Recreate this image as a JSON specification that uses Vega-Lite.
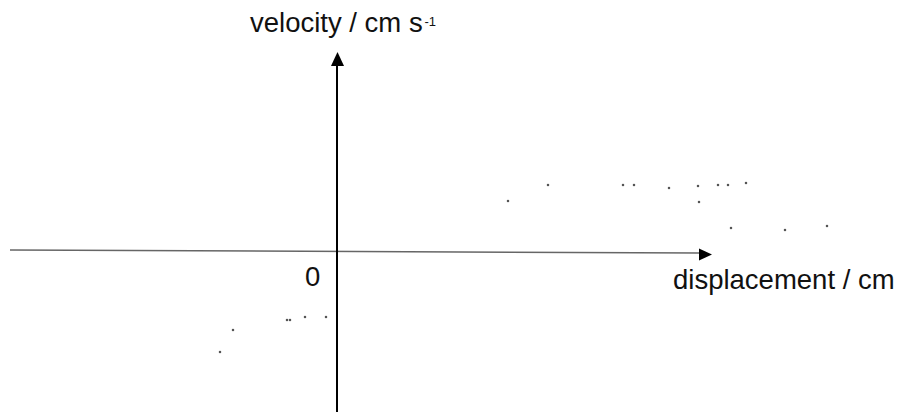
{
  "$schema": "https://vega.github.io/schema/vega-lite/v6.json",
  "autosize": {"type": "fit", "contains": "padding"},
  "width": 909,
  "height": 415,
  "padding": 0,
  "background": "white",
  "config": {"view": {"stroke": null}},
  "datasets": {
    "hline": [{"x": -32.7, "y": 0.2, "x2": 36.3, "y2": -0.1}],
    "vline": [{"x": 0.0, "y": 18.6, "x2": 0.0, "y2": -16.0}],
    "upArrow": [{"x": 0.05, "y": 19.3}],
    "rightArrow": [{"x": 36.85, "y": -0.25}],
    "labels": [
      {"x": -8.7, "y": 22.0, "text": "velocity / cm s"},
      {"x": 33.6, "y": -3.7, "text": "displacement / cm"},
      {"x": -3.2, "y": -3.4, "text": "0"}
    ],
    "sup": [{"x": 8.75, "y": 22.6, "text": "-1"}],
    "specks": [
      {"x": 21.1, "y": 6.7}, {"x": 28.6, "y": 6.7}, {"x": 29.7, "y": 6.7},
      {"x": 33.2, "y": 6.4}, {"x": 36.1, "y": 6.6}, {"x": 38.1, "y": 6.7},
      {"x": 39.1, "y": 6.7}, {"x": 40.9, "y": 6.9}, {"x": 17.1, "y": 5.1},
      {"x": 36.2, "y": 5.0}, {"x": 39.4, "y": 2.4}, {"x": 44.8, "y": 2.2},
      {"x": 49.0, "y": 2.6}, {"x": -5.0, "y": -6.8}, {"x": -4.7, "y": -6.8},
      {"x": -3.2, "y": -6.5}, {"x": -1.1, "y": -6.5}, {"x": -10.4, "y": -7.8},
      {"x": -11.7, "y": -10.0}
    ]
  },
  "layer": [
    {
      "data": {"name": "hline"},
      "mark": {"type": "rule", "color": "#666666", "strokeWidth": 1.5},
      "encoding": {
        "x": {"field": "x", "type": "quantitative", "scale": {"domain": [-33.7, 57.2], "nice": false, "zero": false}, "axis": null},
        "y": {"field": "y", "type": "quantitative", "scale": {"domain": [-16.3, 25.2], "nice": false, "zero": false}, "axis": null},
        "x2": {"field": "x2"},
        "y2": {"field": "y2"}
      }
    },
    {
      "data": {"name": "vline"},
      "mark": {"type": "rule", "color": "#000000", "strokeWidth": 2},
      "encoding": {
        "x": {"field": "x", "type": "quantitative"},
        "y": {"field": "y", "type": "quantitative"},
        "x2": {"field": "x2"},
        "y2": {"field": "y2"}
      }
    },
    {
      "data": {"name": "upArrow"},
      "mark": {"type": "point", "shape": "M0,-1L-0.93,1L0.93,1Z", "size": 196, "filled": true, "color": "#000000", "opacity": 1},
      "encoding": {
        "x": {"field": "x", "type": "quantitative"},
        "y": {"field": "y", "type": "quantitative"}
      }
    },
    {
      "data": {"name": "rightArrow"},
      "mark": {"type": "point", "shape": "M1,0L-1,-0.93L-1,0.93Z", "size": 169, "filled": true, "color": "#000000", "opacity": 1},
      "encoding": {
        "x": {"field": "x", "type": "quantitative"},
        "y": {"field": "y", "type": "quantitative"}
      }
    },
    {
      "data": {"name": "specks"},
      "mark": {"type": "square", "size": 5, "color": "#555555", "opacity": 1},
      "encoding": {
        "x": {"field": "x", "type": "quantitative"},
        "y": {"field": "y", "type": "quantitative"}
      }
    },
    {
      "data": {"name": "labels"},
      "mark": {"type": "text", "align": "left", "baseline": "alphabetic", "font": "Liberation Sans", "fontSize": 27.5, "color": "#111111"},
      "encoding": {
        "x": {"field": "x", "type": "quantitative"},
        "y": {"field": "y", "type": "quantitative"},
        "text": {"field": "text"}
      }
    },
    {
      "data": {"name": "sup"},
      "mark": {"type": "text", "align": "left", "baseline": "alphabetic", "font": "Liberation Sans", "fontSize": 13, "color": "#111111"},
      "encoding": {
        "x": {"field": "x", "type": "quantitative"},
        "y": {"field": "y", "type": "quantitative"},
        "text": {"field": "text"}
      }
    }
  ]
}
